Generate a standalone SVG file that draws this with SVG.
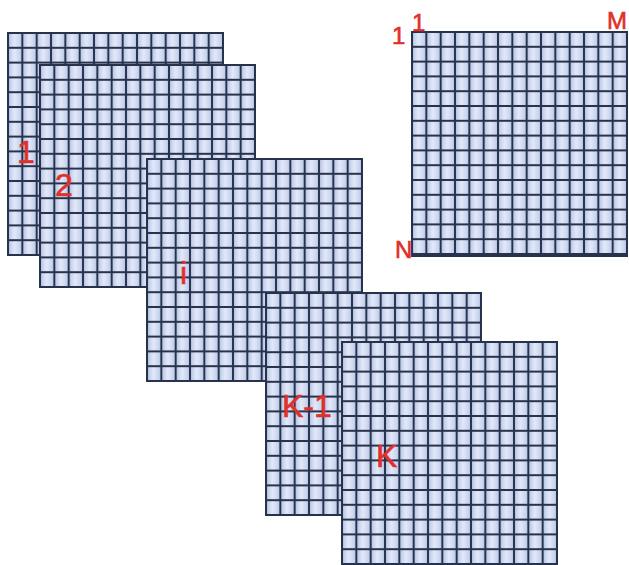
<svg xmlns="http://www.w3.org/2000/svg" width="629" height="565" viewBox="0 0 629 565">
  <style>
    .grid { fill: url(#cells); stroke: #27324d; stroke-width: 2; }
    .lbl { font-family: "Liberation Sans", Arial, sans-serif; fill: #e0302c; stroke: #e0302c; stroke-width: 0.6; }
    .big { font-size: 32px; }
    .small { font-size: 24px; }
  </style>
  <defs>
    <linearGradient id="cellgrad" x1="0" y1="0" x2="1" y2="0">
      <stop offset="0" stop-color="#b4c3e4"/>
      <stop offset="0.45" stop-color="#e3e9f8"/>
      <stop offset="1" stop-color="#bccae9"/>
    </linearGradient>
    <pattern id="cells" patternUnits="userSpaceOnUse" x="0" y="0" width="14.333" height="14.8">
      <rect x="0" y="0" width="14.333" height="14.8" fill="url(#cellgrad)"/>
      <rect x="0" y="0" width="14.333" height="1" fill="#27324d"/>
      <rect x="0" y="13.8" width="14.333" height="1" fill="#27324d"/>
      <rect x="0" y="0" width="1" height="14.8" fill="#27324d"/>
      <rect x="13.333" y="0" width="1" height="14.8" fill="#27324d"/>
    </pattern>
  </defs>
  <rect width="629" height="565" fill="#ffffff"/>

  <g id="grid-1" transform="translate(8,33)">
    <rect class="grid" x="0" y="0" width="215" height="222"/>
    <text class="lbl big" x="9" y="130">1</text>
  </g>
  <g id="grid-2" transform="translate(40,65)">
    <rect class="grid" x="0" y="0" width="215" height="222"/>
    <text class="lbl big" x="15" y="131">2</text>
  </g>
  <g id="grid-i" transform="translate(147,159)">
    <rect class="grid" x="0" y="0" width="215" height="222"/>
    <text class="lbl big" x="33" y="125">i</text>
  </g>
  <g id="grid-k-1" transform="translate(266,293)">
    <rect class="grid" x="0" y="0" width="215" height="222"/>
    <text class="lbl big" x="16" y="124">K-1</text>
  </g>
  <g id="grid-k" transform="translate(342,342)">
    <rect class="grid" x="0" y="0" width="215" height="222"/>
    <text class="lbl big" x="34" y="125">K</text>
  </g>
  <g id="grid-nm" transform="translate(412,32)">
    <rect class="grid" x="0" y="0" width="215" height="224"/>
    <text class="lbl small" x="-20" y="12">1</text>
    <text class="lbl small" x="0" y="-1">1</text>
    <text class="lbl small" x="195" y="-3">M</text>
    <text class="lbl small" x="-17" y="226">N</text>
  </g>
</svg>
